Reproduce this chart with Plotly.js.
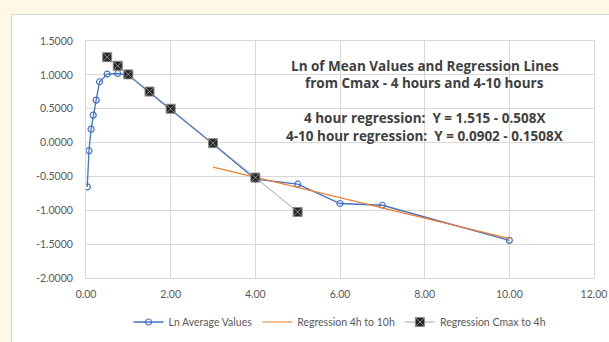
<!DOCTYPE html>
<html>
<head>
<meta charset="utf-8">
<script src="https://cdn.plot.ly/plotly-3.0.1.min.js"></script>
<style>
  html, body { margin: 0; padding: 0; background: #fff8e6; }
  body { width: 609px; height: 342px; position: relative; overflow: hidden; }
  #chart {
    position: absolute; left: 11px; top: 14px; width: 598px; height: 328px;
    background: #ffffff; border-left: 1px solid #d9d9d9; border-top: 1px solid #d9d9d9;
  }
</style>
</head>
<body>
<div id="chart"></div>
<script>
// Ln of mean concentrations over time (hours)
const lnTimes = [0.03, 0.07, 0.12, 0.17, 0.24, 0.32, 0.5, 0.75, 1, 1.5, 2, 3, 4, 5, 6, 7, 10];
const lnValues = [-0.655, -0.12, 0.198, 0.405, 0.627, 0.898, 1.012, 1.02, 0.997, 0.74, 0.49, -0.02, -0.54, -0.615, -0.90, -0.926, -1.444];

// Regression 4h to 10h: Y = 0.0902 - 0.1508X
const lateTimes = [3, 4, 5, 6, 7, 10];
const lateValues = [-0.362, -0.513, -0.664, -0.815, -0.965, -1.418];

// Regression Cmax to 4h: Y = 1.515 - 0.508X
const earlyTimes = [0.5, 0.75, 1, 1.5, 2, 3, 4, 5];
const earlyValues = [1.261, 1.134, 1.007, 0.753, 0.499, -0.009, -0.517, -1.025];

const xTickVals = [0, 2, 4, 6, 8, 10, 12];
const xTickText = ['0.00', '2.00', '4.00', '6.00', '8.00', '10.00', '12.00'];
const yTickVals = [1.5, 1, 0.5, 0, -0.5, -1, -1.5, -2];
const yTickText = ['1.5000', '1.0000', '0.5000', '0.0000', '-0.5000', '-1.0000', '-1.5000', '-2.0000'];

const titleLines = [
  'Ln of Mean Values and Regression Lines',
  'from Cmax - 4 hours and 4-10 hours',
  '4 hour regression:  Y = 1.515 - 0.508X',
  '4-10 hour regression:  Y = 0.0902 - 0.1508X'
];
const titleY = [1.135, 0.873, 0.365, 0.09];

const FONT = 'Lato, "Open Sans", sans-serif';
const TITLE_FONT = '"Open Sans", Lato, sans-serif';

const traces = [
  {
    x: lnTimes, y: lnValues, name: 'Ln Average Values', type: 'scatter', mode: 'lines+markers',
    line: { color: '#4472c4', width: 1.3 },
    marker: { symbol: 'circle-open', size: 6, color: '#4472c4', line: { width: 1.2 } }
  },
  {
    x: lateTimes, y: lateValues, name: 'Regression 4h to 10h', type: 'scatter', mode: 'lines',
    line: { color: '#ed7d31', width: 1.2 }
  },
  {
    x: earlyTimes, y: earlyValues, name: 'Regression Cmax to 4h', type: 'scatter', mode: 'lines+markers',
    line: { color: '#a0a4ab', width: 1 },
    marker: { symbol: 'square-x', size: 9, color: '#262626', line: { color: '#8a8a8a', width: 1 } }
  }
];

const annotations = titleLines.map((t, i) => ({
  x: 8, y: titleY[i], xref: 'x', yref: 'y', text: '<b>' + t + '</b>', showarrow: false,
  font: { family: TITLE_FONT, size: 13.5, color: '#404040' }, xanchor: 'center', yanchor: 'middle'
}));

const layout = {
  width: 598, height: 328,
  margin: { l: 74, r: 16, t: 26, b: 65 },
  paper_bgcolor: 'rgba(0,0,0,0)', plot_bgcolor: '#ffffff',
  font: { family: FONT, size: 10.5, color: '#595959' },
  xaxis: {
    range: [0, 12], tickvals: xTickVals, ticktext: xTickText,
    showgrid: true, gridcolor: '#d9d9d9', gridwidth: 1, zeroline: false,
    showline: true, linecolor: '#d9d9d9', mirror: true, ticks: '', ticklen: 0,
    ticklabelstandoff: 6,
    tickfont: { family: FONT, size: 10.5, color: '#595959' }
  },
  yaxis: {
    range: [-2, 1.5], tickvals: yTickVals, ticktext: yTickText,
    showgrid: true, gridcolor: '#d9d9d9', gridwidth: 1, zeroline: false,
    showline: true, linecolor: '#d9d9d9', mirror: true, ticks: '', ticklen: 0,
    ticklabelstandoff: 10,
    tickfont: { family: FONT, size: 10.5, color: '#595959' }
  },
  showlegend: true,
  legend: {
    orientation: 'h', x: 0.5, xanchor: 'center',
    yref: 'container', y: 0.064, yanchor: 'middle',
    font: { family: FONT, size: 10.5, color: '#595959' }, bgcolor: 'rgba(0,0,0,0)'
  },
  annotations: annotations
};

Plotly.newPlot('chart', traces, layout, { displayModeBar: false, staticPlot: true });
</script>
</body>
</html>
